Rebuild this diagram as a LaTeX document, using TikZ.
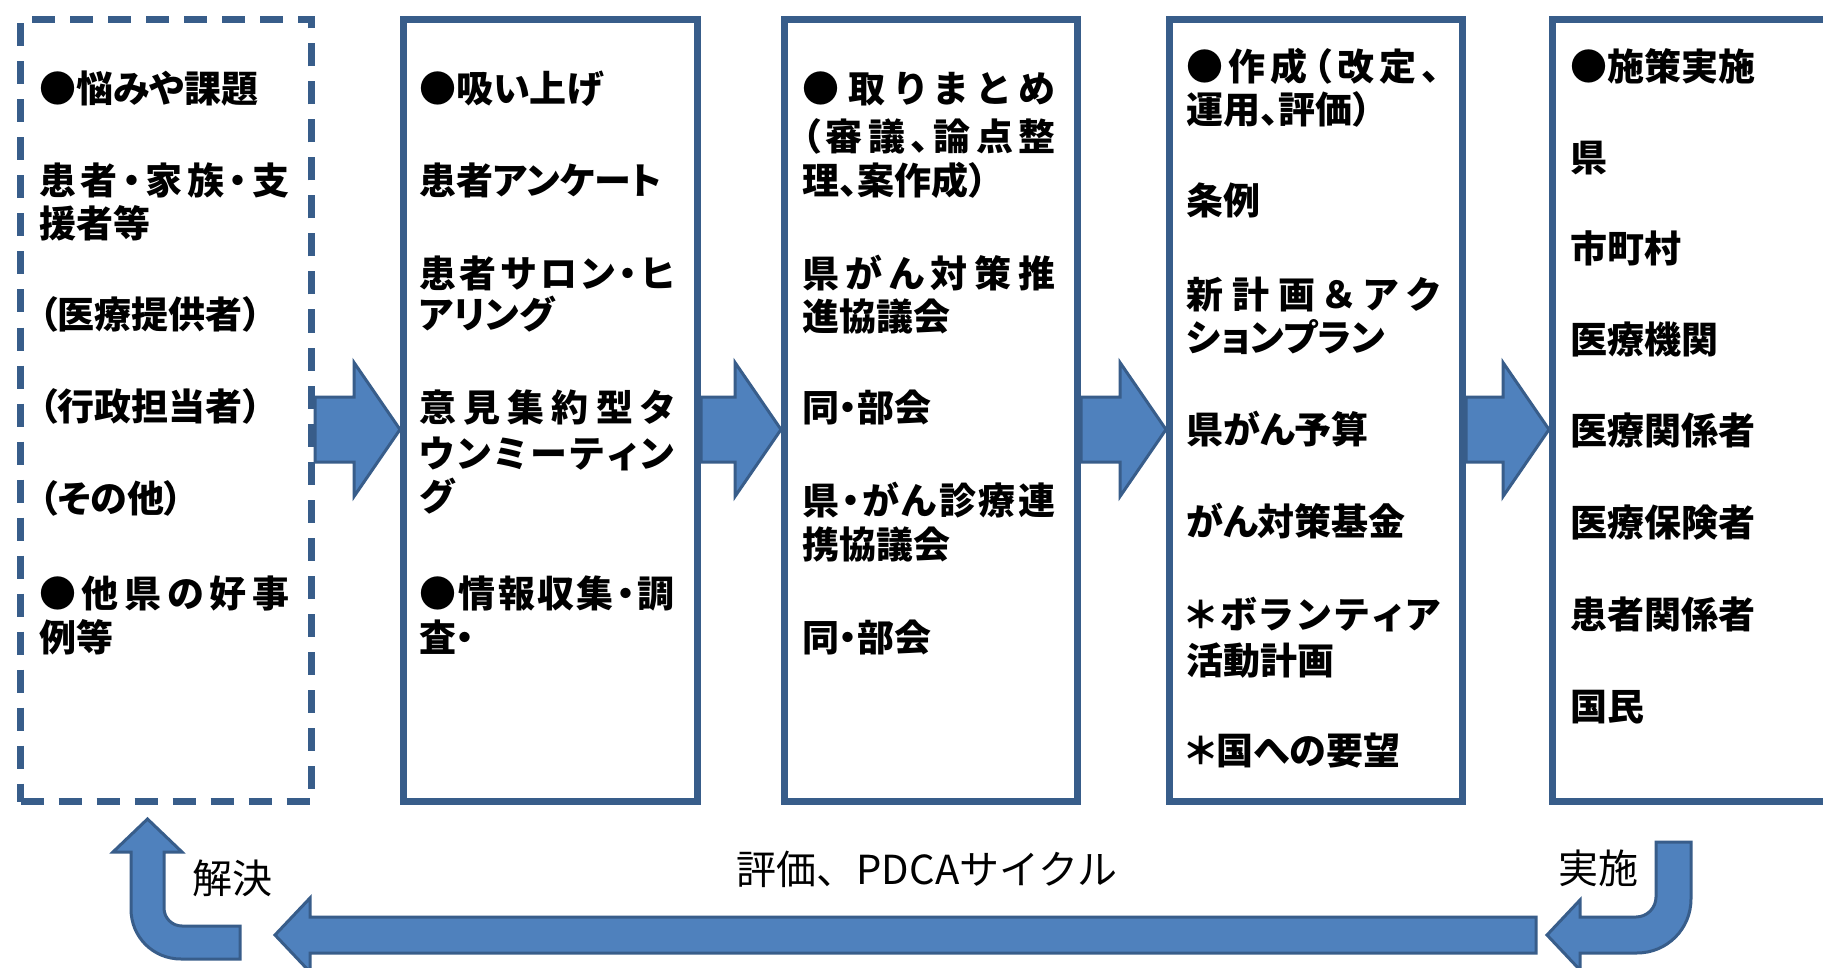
\documentclass[tikz,border=0pt]{standalone}
\usepackage{fontspec}
\newfontfamily\jpp[RawFeature=+palt]{Noto Sans CJK JP}
\newfontfamily\jp{Noto Sans CJK JP}
\usetikzlibrary{calc}
\definecolor{edge}{HTML}{385D8A}
\definecolor{afill}{HTML}{4F81BD}
\def\jspA#1{#1\jspB}
\def\jspB#1{\ifx#1\relax\else\hfill#1\expandafter\jspB\fi}
\newcommand\spreadline[2]{\makebox[#1][l]{\jspA#2\relax}}
\newcommand\blockarrow[2]{%
  \draw[barrow] let \p1=(#1), \p2=(#2) in
   (\x1,\y1+32.5pt) -- (\x2-46pt,\y1+32.5pt) -- (\x2-46pt,\y1+67pt) -- (\x2,\y1)
   -- (\x2-46pt,\y1-67pt) -- (\x2-46pt,\y1-32.5pt) -- (\x1,\y1-32.5pt) -- cycle;}
\begin{document}
\begin{tikzpicture}[x=1pt,y=-1pt,
  box/.style={draw=edge, line width=7pt, anchor=north west, inner sep=0pt, fill=white, minimum height=782pt},
  dbox/.style={box, dash pattern=on 23pt off 15pt},
  txt/.style={anchor=west, inner sep=0pt, text height=30.7pt, text depth=2.6pt, font=\jpp\bfseries\fontsize{37}{44}\selectfont},
  lbl/.style={inner sep=0pt, text height=33pt, text depth=3pt, font=\jp\fontsize{40}{48}\selectfont},
  barrow/.style={draw=edge, fill=afill, line width=3pt, line join=miter}]
\useasboundingbox (0,0) rectangle (1823,968);
\clip (0,0) rectangle (1823,968);
\fill[white] (0,0) rectangle (1823,968);

% boxes
\node[dbox, minimum width=291pt] (b1) at (17,16) {};
\node[box, minimum width=294pt] (b2) at (400,16) {};
\node[box, minimum width=293pt] (b3) at (781,16) {};
\node[box, minimum width=293pt] (b4) at (1166,16) {};
\node[box, minimum width=330pt] (b5) at (1549,16) {};

% arrows between boxes
\coordinate (axis) at (0,429.5);
\blockarrow{b1.east |- axis}{b2.west |- axis}
\blockarrow{b2.east |- axis}{b3.west |- axis}
\blockarrow{b3.east |- axis}{b4.west |- axis}
\blockarrow{b4.east |- axis}{b5.west |- axis}

% box 1
\node[txt] (b1t1) at (39,88) {●悩みや課題};
\node[txt] (b1t2) at (39,180) {\spreadline{250pt}{患者・家族・支}};
\node[txt] (b1t3) at (39,223) {援者等};
\node[txt] (b1t4) at (39,314) {（医療提供者）};
\node[txt] (b1t5) at (39,406) {（行政担当者）};
\node[txt] (b1t6) at (39,498) {（その他）};
\node[txt] (b1t7) at (39,593) {\spreadline{250pt}{●他県の好事}};
\node[txt] (b1t8) at (39,637) {例等};

% box 2
\node[txt] (b2t1) at (419,88) {●吸い上げ};
\node[txt] (b2t2) at (419,180) {患者アンケート};
\node[txt] (b2t3) at (419,273) {\spreadline{255pt}{患者サロン・ヒ}};
\node[txt] (b2t4) at (419,314) {アリング};
\node[txt] (b2t5) at (419,407) {\spreadline{255pt}{意見集約型タ}};
\node[txt] (b2t6) at (419,453) {\spreadline{255pt}{ウンミーティン}};
\node[txt] (b2t7) at (419,496) {グ};
\node[txt] (b2t8) at (419,593) {\spreadline{255pt}{●情報収集・調}};
\node[txt] (b2t9) at (419,637) {査・};

% box 3
\node[txt] (b3t1) at (802,88) {\spreadline{253pt}{●取りまとめ}};
\node[txt] (b3t2) at (802,136) {\spreadline{253pt}{（審議、論点整}};
\node[txt] (b3t3) at (802,180) {理、案作成）};
\node[txt] (b3t4) at (802,273) {\spreadline{253pt}{県がん対策推}};
\node[txt] (b3t5) at (802,316) {進協議会};
\node[txt] (b3t6) at (802,407) {同・部会};
\node[txt] (b3t7) at (802,500) {\spreadline{253pt}{県・がん診療連}};
\node[txt] (b3t8) at (802,544) {携協議会};
\node[txt] (b3t9) at (802,637) {同・部会};

% box 4
\node[txt] (b4t1) at (1186,66) {\spreadline{254pt}{●作成（改定、}};
\node[txt] (b4t2) at (1186,109) {運用、評価）};
\node[txt] (b4t3) at (1186,200) {条例};
\node[txt] (b4t4) at (1186,294) {\spreadline{254pt}{新計画＆アク}};
\node[txt] (b4t5) at (1186,337) {ションプラン};
\node[txt] (b4t6) at (1186,429) {県がん予算};
\node[txt] (b4t7) at (1186,521) {がん対策基金};
\node[txt] (b4t8) at (1186,614) {\spreadline{254pt}{＊ボランティア}};
\node[txt] (b4t9) at (1186,660) {活動計画};
\node[txt] (b4t10) at (1186,750) {＊国への要望};

% box 5
\node[txt] (b5t1) at (1570,66) {●施策実施};
\node[txt] (b5t2) at (1570,157) {県};
\node[txt] (b5t3) at (1570,248) {市町村};
\node[txt] (b5t4) at (1570,339) {医療機関};
\node[txt] (b5t5) at (1570,430) {医療関係者};
\node[txt] (b5t6) at (1570,522) {医療保険者};
\node[txt] (b5t7) at (1570,614) {患者関係者};
\node[txt] (b5t8) at (1570,706) {国民};

% bottom cycle arrows
\draw[barrow] (1536,917) -- (310,917) -- (310,898) -- (275,935) -- (310,972) -- (310,953) -- (1536,953) -- cycle;
\draw[barrow] (240,926) -- (182,926) .. controls (172,926) and (164,918) .. (164,908)
  -- (164,852) -- (182,852) -- (147.5,819) -- (113,852) -- (131,852) -- (131,909)
  .. controls (131,937) and (153,959) .. (181,959) -- (240,959) -- cycle;
\draw[barrow] (1656,842) -- (1691,842) -- (1691,899) .. controls (1691,929) and (1667,953) .. (1637,953)
  -- (1580,953) -- (1580,970) -- (1547,935) -- (1580,900) -- (1580,917) -- (1636,917)
  .. controls (1647,917) and (1656,908) .. (1656,897) -- cycle;

% labels
\node[lbl] (solve) at (232,878) {解決};
\node[lbl] (impl) at (1598,868) {実施};
\node[lbl] (pdca) at (927,869) {評価、PDCAサイクル};
\end{tikzpicture}
\end{document}
